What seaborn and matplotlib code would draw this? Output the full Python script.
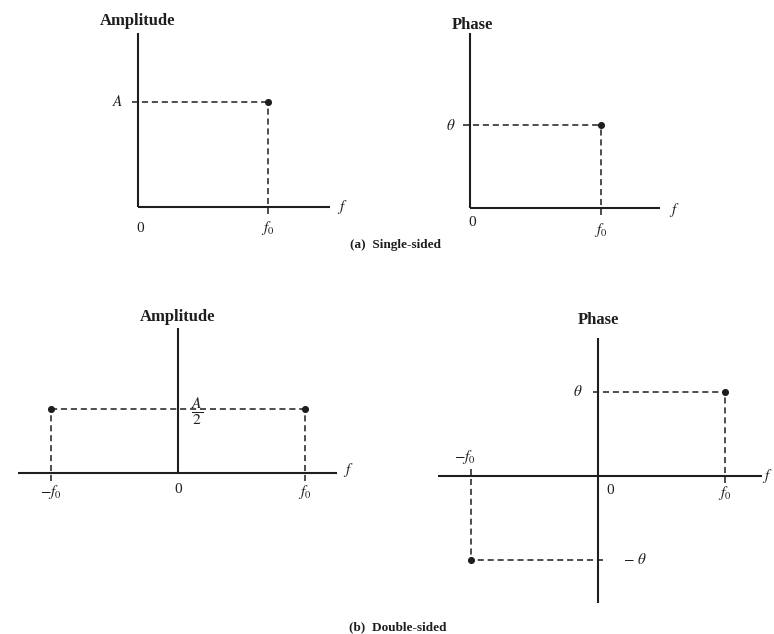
import matplotlib
matplotlib.use("Agg")
import matplotlib.pyplot as plt
import pandas as pd
import seaborn as sns

# spectrum of A*cos(2*pi*f0*t + theta), in units of f0, A and theta
freq_single = [1.0]
amp_single = [1.0]
phase_single = [1.0]

freq_double = [-1.0, 1.0]
amp_double = [1.0, 1.0]      # in units of A/2
phase_double = [-1.0, 1.0]   # -theta at -f0, theta at f0

W, H = 774, 634
INK = "#1e1e1e"

sns.set_theme(style="white")
plt.rcParams['font.family'] = ['Liberation Serif', 'DejaVu Serif']
plt.rcParams['mathtext.fontset'] = 'stix'

fig = plt.figure(figsize=(W / 100, H / 100), dpi=100)
fig.patch.set_facecolor("white")


def make_axes(ox, oy, sx, sy, xlim, ylim):
    # origin (ox, oy) in pixels from top-left, sx/sy pixels per unit
    left = ox + xlim[0] * sx
    width = (xlim[1] - xlim[0]) * sx
    top = oy - ylim[1] * sy
    height = (ylim[1] - ylim[0]) * sy
    ax = fig.add_axes([left / W, 1 - (top + height) / H, width / W, height / H])
    ax.set_xlim(*xlim)
    ax.set_ylim(*ylim)
    ax.axis("off")
    ax.patch.set_alpha(0)
    return ax


def draw_axes(ax, xr, yr):
    ax.plot(xr, [0, 0], color=INK, lw=1.5, solid_capstyle="butt")
    ax.plot([0, 0], yr, color=INK, lw=1.5, solid_capstyle="butt")


def guide(ax, xs, ys):
    ax.plot(xs, ys, color=INK, lw=1.1, ls=(0, (4, 2.5)))


def dots(ax, xs, ys):
    sns.scatterplot(x=xs, y=ys, ax=ax, color=INK, s=26, linewidth=0, zorder=5)


label_kw = dict(color=INK, ha="center", va="center", fontsize=11)
title_kw = dict(color=INK, ha="center", va="center", fontsize=12, fontweight="bold")

# (a) single-sided amplitude
ax1 = make_axes(138, 207, 130, 105, (-0.4, 1.8), (-0.4, 1.9))
draw_axes(ax1, [0, 1.48], [0, 1.66])
for f, a in zip(freq_single, amp_single):
    guide(ax1, [-0.05, f], [a, a])
    guide(ax1, [f, f], [-0.07, a])
dots(ax1, freq_single, amp_single)
ax1.text(0, 1.77, "Amplitude", **title_kw)
ax1.text(-0.16, amp_single[0], "$A$", **label_kw)
ax1.text(0.02, -0.2, "0", **label_kw)
ax1.text(freq_single[0], -0.2, "$f_0$", **label_kw)
ax1.text(1.57, 0.0, "$f$", **label_kw)

# (a) single-sided phase
ax2 = make_axes(470, 208, 131, 83, (-0.4, 1.8), (-0.4, 2.4))
draw_axes(ax2, [0, 1.45], [0, 2.11])
for f, p in zip(freq_single, phase_single):
    guide(ax2, [-0.05, f], [p, p])
    guide(ax2, [f, f], [-0.08, p])
dots(ax2, freq_single, phase_single)
ax2.text(0.02, 2.2, "Phase", **title_kw)
ax2.text(-0.15, phase_single[0], r"$\theta$", **label_kw)
ax2.text(0.02, -0.17, "0", **label_kw)
ax2.text(freq_single[0], -0.26, "$f_0$", **label_kw)
ax2.text(1.56, -0.03, "$f$", **label_kw)

fig.text(395 / W, 1 - 245 / H, "(a)  Single-sided", color=INK, ha="center",
         va="center", fontsize=9.5, fontweight="bold")

# (b) double-sided amplitude
ax3 = make_axes(178, 473, 127, 64, (-1.4, 1.5), (-0.6, 2.6))
draw_axes(ax3, [-1.26, 1.25], [0, 2.27])
df3 = pd.DataFrame({"f": freq_double, "a": amp_double})
guide(ax3, [df3.f.min(), df3.f.max()], [df3.a.iloc[0], df3.a.iloc[1]])
for f, a in zip(df3.f, df3.a):
    guide(ax3, [f, f], [-0.12, a])
dots(ax3, df3.f, df3.a)
ax3.text(0, 2.44, "Amplitude", **title_kw)
ax3.text(0.15, 0.96, r"$\frac{A}{2}$", color=INK, ha="center", va="center", fontsize=16)
ax3.text(-1.0, -0.3, "$-f_0$", **label_kw)
ax3.text(0, -0.26, "0", **label_kw)
ax3.text(1.0, -0.3, "$f_0$", **label_kw)
ax3.text(1.34, 0.04, "$f$", **label_kw)

# (b) double-sided phase
ax4 = make_axes(598, 476, 127, 84, (-1.4, 1.45), (-1.7, 2.0))
draw_axes(ax4, [-1.26, 1.29], [-1.51, 1.64])
df4 = pd.DataFrame({"f": freq_double, "p": phase_double})
for f, p in zip(df4.f, df4.p):
    guide(ax4, [0.04 * (-f), f], [p, p])
    guide(ax4, [f, f], [-0.08 * p, p])
dots(ax4, df4.f, df4.p)
ax4.text(0, 1.86, "Phase", **title_kw)
ax4.text(-0.16, 1.0, r"$\theta$", **label_kw)
ax4.text(0.29, -1.0, r"$-\ \theta$", **label_kw)
ax4.text(-1.05, 0.23, "$-f_0$", **label_kw)
ax4.text(0.095, -0.17, "0", **label_kw)
ax4.text(1.0, -0.2, "$f_0$", **label_kw)
ax4.text(1.33, 0.0, "$f$", **label_kw)

fig.text(398 / W, 1 - 627 / H, "(b)  Double-sided", color=INK, ha="center",
         va="center", fontsize=9.5, fontweight="bold")

fig.savefig("out.png", dpi=100)
